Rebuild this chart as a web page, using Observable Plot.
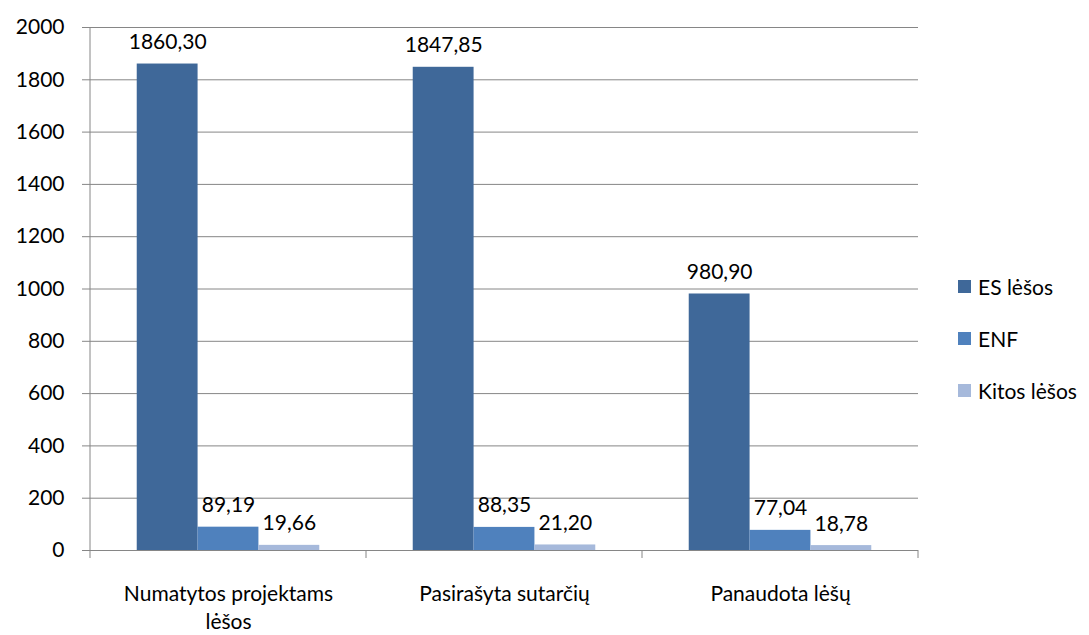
<!DOCTYPE html>
<html><head><meta charset="utf-8">
<script src="https://cdn.jsdelivr.net/npm/d3@7"></script>
<script src="https://cdn.jsdelivr.net/npm/@observablehq/plot@0.6"></script>
<style>
body{margin:0;background:#fff;font-family:Lato,sans-serif}
#wrap{position:relative;width:1089px;height:635px;overflow:hidden}
#legend{position:absolute;left:958px;top:260px;font-size:21px;color:#000}
.item{display:flex;align-items:center;height:52px;white-space:nowrap}
.sw{width:13px;height:13px;margin-right:7px;flex:none}
</style>
</head><body><div id="wrap"></div>
<script>
const categories = ["Numatytos projektams lėšos", "Pasirašyta sutarčių", "Panaudota lėšų"];
const series = ["ES lėšos", "ENF", "Kitos lėšos"];
const esValues = [1860.30, 1847.85, 980.90];
const enfValues = [89.19, 88.35, 77.04];
const kitosValues = [19.66, 21.20, 18.78];
const yTicks = [0, 200, 400, 600, 800, 1000, 1200, 1400, 1600, 1800, 2000];
const colors = ["#3F6899", "#4F81BD", "#A6B9DB"];

const valuesBySeries = [esValues, enfValues, kitosValues];
const data = [];
categories.forEach((c, i) => series.forEach((s, j) => data.push({category: c, series: s, value: valuesBySeries[j][i]})));
const fmt = v => v.toFixed(2).replace(".", ",");

const plot = Plot.plot({
  width: 1089, height: 635,
  marginLeft: 89, marginRight: 171, marginTop: 27, marginBottom: 85,
  style: {fontFamily: "Lato, sans-serif", fontSize: "21px", color: "#000", background: "#fff", overflow: "visible"},
  fx: {domain: categories, padding: 0, label: null},
  x: {domain: series, paddingInner: 0, paddingOuter: 0.768, axis: null, round: false},
  y: {domain: [0, 2000], label: null},
  color: {domain: series, range: colors},
  marks: [
    Plot.gridY(yTicks, {stroke: "#868686", strokeOpacity: 1}),
    Plot.axisY(yTicks, {tickSize: 8, tickPadding: 18, stroke: "#868686", label: null, fill: "#000", tickFormat: d => String(d)}),
    Plot.barY(data, {fx: "category", x: "series", y: "value", fill: "series"}),
    Plot.text(data, {fx: "category", x: "series", y: "value", text: d => fmt(d.value), lineAnchor: "bottom", dy: -15, fill: "#000"}),
    Plot.axisFx({anchor: "bottom", tickSize: 0, tickPadding: 30, lineWidth: 12, lineHeight: 1.36, label: null, fill: "#000"})
  ]
});

const fx = plot.scale("fx");
const y = plot.scale("y");
const svg = d3.select(plot);
const edges = categories.map(c => fx.apply(c));
edges.push(fx.apply(categories[categories.length - 1]) + fx.bandwidth);
const y0 = y.apply(0);
const yTop = y.apply(2000);
svg.append("g").attr("stroke", "#868686").selectAll("line").data(edges).join("line")
  .attr("x1", d => d).attr("x2", d => d)
  .attr("y1", (d, i) => i === 0 ? yTop : y0).attr("y2", y0 + 8);

document.getElementById("wrap").appendChild(plot);

const legend = document.createElement("div");
legend.id = "legend";
series.forEach((s, i) => {
  const it = document.createElement("div"); it.className = "item";
  const sw = document.createElement("div"); sw.className = "sw"; sw.style.background = colors[i];
  const t = document.createElement("span"); t.textContent = s;
  it.appendChild(sw); it.appendChild(t); legend.appendChild(it);
});
document.getElementById("wrap").appendChild(legend);
</script>
</body></html>
